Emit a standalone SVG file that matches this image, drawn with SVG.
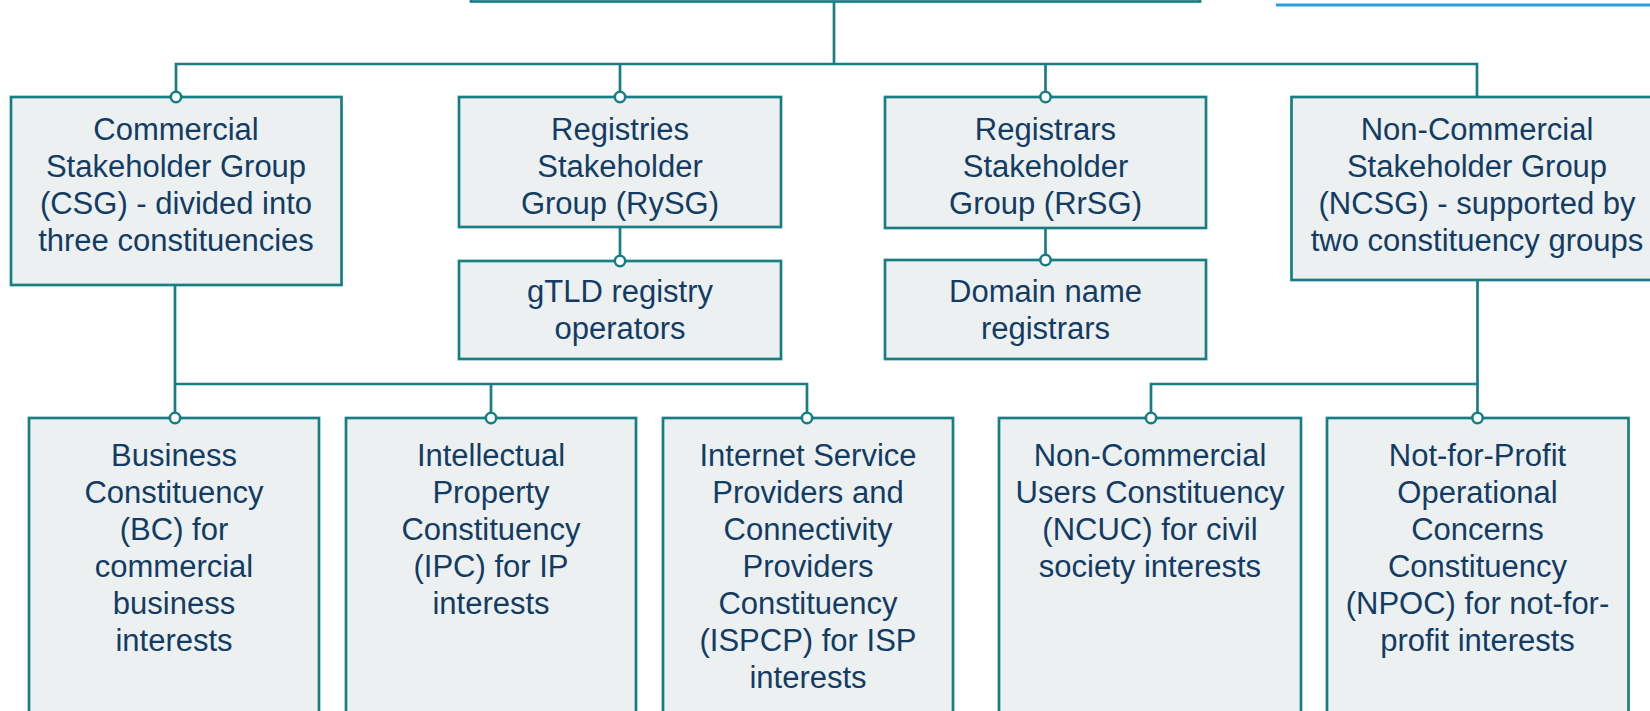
<svg xmlns="http://www.w3.org/2000/svg" width="1650" height="711" viewBox="0 0 1650 711">
  <style>
    .box { fill: #edf0f1; stroke: #177e84; stroke-width: 2.7; }
    .lbl { font-family: "Liberation Sans", Arial, sans-serif; font-size: 31px; fill: #123c64; text-anchor: middle; }
    .conn { fill: none; stroke: #177e84; stroke-width: 2.7; }
    .dot { fill: #ffffff; stroke: #177e84; stroke-width: 2.6; }
    .link { stroke: #2a9fdc; stroke-width: 3; }
  </style>
  <rect width="1650" height="711" fill="#ffffff"/>
  <line class="link" x1="1276" y1="5" x2="1650" y2="5"/>

  <g id="top">
    <rect x="471" y="-60" width="729" height="61.5" fill="#ffffff" stroke="#177e84" stroke-width="2.7"/>
  </g>

  <g id="connectors">
    <path class="conn" d="M834 1 V64 M176 97 V64 H1477 V97 M620 64 V97 M1045.5 64 V97"/>
    <path class="conn" d="M620 227 V261 M1045.5 228 V260"/>
    <path class="conn" d="M175 285 V418 M175 384 H807 V418 M491 384 V418"/>
    <path class="conn" d="M1477.5 280 V418 M1477.5 384 H1151 V418"/>
  </g>

  <g id="csg">
    <rect class="box" x="11" y="97" width="330.5" height="188"/>
    <text class="lbl"><tspan x="176" y="140">Commercial</tspan><tspan x="176" y="177">Stakeholder Group</tspan><tspan x="176" y="214">(CSG) - divided into</tspan><tspan x="176" y="251">three constituencies</tspan></text>
  </g>
  <g id="rysg">
    <rect class="box" x="459" y="97" width="322" height="130"/>
    <text class="lbl"><tspan x="620" y="140">Registries</tspan><tspan x="620" y="177">Stakeholder</tspan><tspan x="620" y="214">Group (RySG)</tspan></text>
  </g>
  <g id="gtld">
    <rect class="box" x="459" y="261" width="322" height="98"/>
    <text class="lbl"><tspan x="620" y="302">gTLD registry</tspan><tspan x="620" y="339">operators</tspan></text>
  </g>
  <g id="rrsg">
    <rect class="box" x="885" y="97" width="321" height="131"/>
    <text class="lbl"><tspan x="1045.5" y="140">Registrars</tspan><tspan x="1045.5" y="177">Stakeholder</tspan><tspan x="1045.5" y="214">Group (RrSG)</tspan></text>
  </g>
  <g id="domain">
    <rect class="box" x="885" y="260" width="321" height="99"/>
    <text class="lbl"><tspan x="1045.5" y="302">Domain name</tspan><tspan x="1045.5" y="339">registrars</tspan></text>
  </g>
  <g id="ncsg">
    <rect class="box" x="1291.5" y="97" width="371" height="183"/>
    <text class="lbl"><tspan x="1477" y="140">Non-Commercial</tspan><tspan x="1477" y="177">Stakeholder Group</tspan><tspan x="1477" y="214">(NCSG) - supported by</tspan><tspan x="1477" y="251">two constituency groups</tspan></text>
  </g>

  <g id="bc">
    <rect class="box" x="29" y="418" width="290" height="320"/>
    <text class="lbl"><tspan x="174" y="466">Business</tspan><tspan x="174" y="503">Constituency</tspan><tspan x="174" y="540">(BC) for</tspan><tspan x="174" y="577">commercial</tspan><tspan x="174" y="614">business</tspan><tspan x="174" y="651">interests</tspan></text>
  </g>
  <g id="ipc">
    <rect class="box" x="346" y="418" width="290" height="320"/>
    <text class="lbl"><tspan x="491" y="466">Intellectual</tspan><tspan x="491" y="503">Property</tspan><tspan x="491" y="540">Constituency</tspan><tspan x="491" y="577">(IPC) for IP</tspan><tspan x="491" y="614">interests</tspan></text>
  </g>
  <g id="ispcp">
    <rect class="box" x="663" y="418" width="290" height="320"/>
    <text class="lbl"><tspan x="808" y="466">Internet Service</tspan><tspan x="808" y="503">Providers and</tspan><tspan x="808" y="540">Connectivity</tspan><tspan x="808" y="577">Providers</tspan><tspan x="808" y="614">Constituency</tspan><tspan x="808" y="651">(ISPCP) for ISP</tspan><tspan x="808" y="688">interests</tspan></text>
  </g>
  <g id="ncuc">
    <rect class="box" x="999" y="418" width="302" height="320"/>
    <text class="lbl"><tspan x="1150" y="466">Non-Commercial</tspan><tspan x="1150" y="503">Users Constituency</tspan><tspan x="1150" y="540">(NCUC) for civil</tspan><tspan x="1150" y="577">society interests</tspan></text>
  </g>
  <g id="npoc">
    <rect class="box" x="1327" y="418" width="301.5" height="320"/>
    <text class="lbl"><tspan x="1477.5" y="466">Not-for-Profit</tspan><tspan x="1477.5" y="503">Operational</tspan><tspan x="1477.5" y="540">Concerns</tspan><tspan x="1477.5" y="577">Constituency</tspan><tspan x="1477.5" y="614">(NPOC) for not-for-</tspan><tspan x="1477.5" y="651">profit interests</tspan></text>
  </g>

  <g id="dots">
    <circle class="dot" cx="176" cy="97" r="5.2"/>
    <circle class="dot" cx="620" cy="97" r="5.2"/>
    <circle class="dot" cx="1045.5" cy="97" r="5.2"/>
    <circle class="dot" cx="620" cy="261" r="5.2"/>
    <circle class="dot" cx="1045.5" cy="260" r="5.2"/>
    <circle class="dot" cx="175" cy="418" r="5.2"/>
    <circle class="dot" cx="491" cy="418" r="5.2"/>
    <circle class="dot" cx="807" cy="418" r="5.2"/>
    <circle class="dot" cx="1151" cy="418" r="5.2"/>
    <circle class="dot" cx="1477.5" cy="418" r="5.2"/>
  </g>
</svg>
